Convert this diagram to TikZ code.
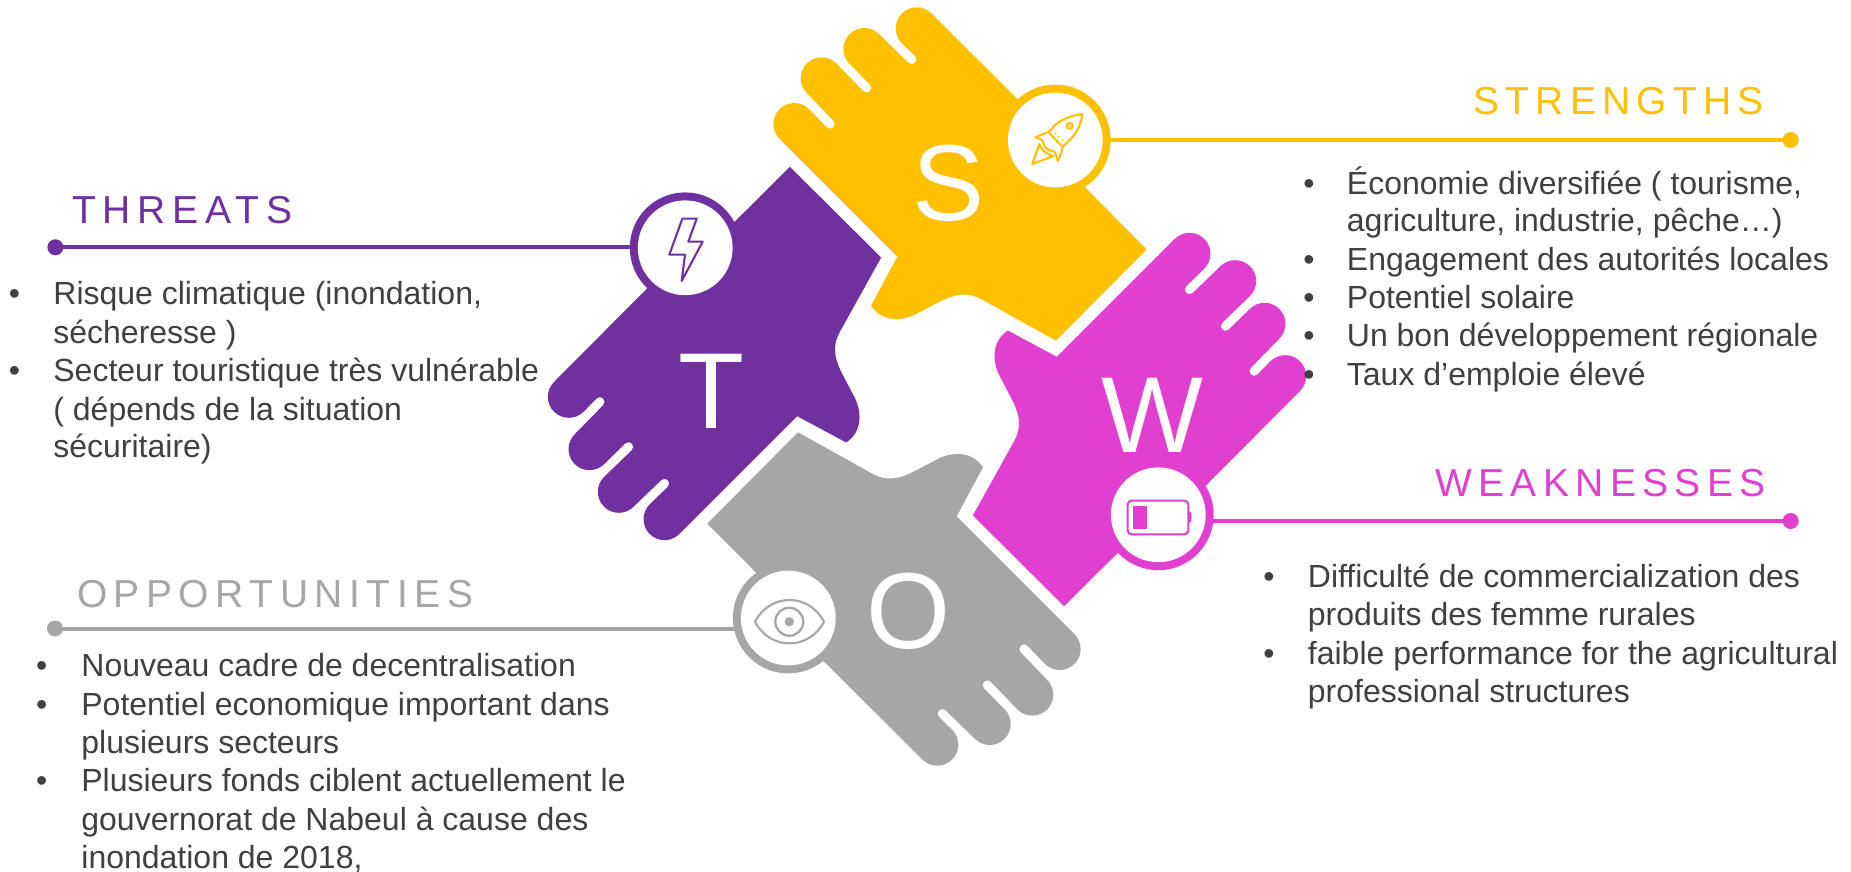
\documentclass[tikz,border=0pt]{standalone}
\usepackage{fontspec}
\setmainfont{Liberation Sans}
\definecolor{cS}{HTML}{FFC000}
\definecolor{cT}{HTML}{7030A0}
\definecolor{cW}{HTML}{E03FD0}
\definecolor{cO}{HTML}{A6A6A6}
\definecolor{cTxt}{HTML}{404040}
\newcommand{\ftip}[2]{-- ({#1-44.5},{#2+44.5}) .. controls ({#1-69.1},{#2+20}) and ({#1-69.1},{#2-20}) .. ({#1-44.5},{#2-44.5}) .. controls ({#1-20},{#2-69.1}) and ({#1+20},{#2-69.1}) .. ({#1+44.5},{#2-44.5})}
\newcommand{\fslit}[2]{-- ({#1-10},{#2+10}) .. controls ({#1+3.2},{#2+23.2}) and ({#1+23.2},{#2+3.2}) .. ({#1+10},{#2-10})}
\newcommand{\hand}[2]{%
\begin{scope}[rotate around={#1:(927,386.5)}]
\begin{scope}[shift={(380pt,0pt)},x=0.166667pt,y=-0.166667pt]
\fill[#2] (1160,748) -- (888,1022) -- (665,898)
 .. controls (625,876) and (590,880) .. (545,902)
 -- (480,936) .. controls (425,968) and (365,965) .. (333,917)
 -- (412,770) -- (58.5,416.5)
 .. controls (33.9,392) and (33.9,352) .. (58.5,327.5)
 .. controls (83,303) and (123,303) .. (147.5,327.5)
 \fslit{210}{372} \ftip{185}{235} \fslit{320}{264} \ftip{313}{147} \fslit{455}{178} \ftip{470}{85}
 -- (918.3,442.2) -- (886.8,473.7) -- cycle;
\end{scope}
\end{scope}}
\newcommand{\tl}[4]{\node[bodytxt] (#1) at (#2,#3) {#4};}
\newcommand{\bl}[3]{\node[bodytxt,anchor=base] (#1) at (#2,#3) {•};}
\tikzset{
 bodytxt/.style={inner sep=0pt,anchor=base west,text=cTxt,font=\fontsize{16pt}{18pt}\selectfont},
 titletxt/.style={inner sep=0pt,anchor=base west,font=\fontsize{19.5pt}{22pt}\selectfont},
 bigletter/.style={inner sep=0pt,anchor=base,text=white,font=\fontsize{54pt}{60pt}\selectfont},
 ring/.style={circle,inner sep=0pt,minimum size=55.4pt,fill=#1},
 hole/.style={circle,inner sep=0pt,minimum size=47.4pt,fill=white},
 enddot/.style={circle,inner sep=0pt,minimum size=8pt,fill=#1},
 conn/.style={draw=#1,line width=2pt},
 icon/.style={draw=#1,line width=1.05pt,line join=round,line cap=round}
}
\begin{document}
\begin{tikzpicture}[x=0.5pt,y=-0.5pt]
\useasboundingbox (0,0) rectangle (1851,872);
\fill[white] (0,0) rectangle (1851,872);
\hand{0}{cS}
\hand{90}{cT}
\hand{180}{cO}
\hand{270}{cW}
% rings, connectors, holes
\node[ring=cS] (ringS) at (1055.3,140) {};
\node[ring=cT] (ringT) at (685.2,247.8) {};
\node[ring=cW] (ringW) at (1158.3,514.8) {};
\node[ring=cO] (ringO) at (788.3,618) {};
\node[enddot=cS] (dotS) at (1790.7,140) {};
\node[enddot=cT] (dotT) at (55.4,247.3) {};
\node[enddot=cW] (dotW) at (1790.7,521) {};
\node[enddot=cO] (dotO) at (55,628.5) {};
\draw[conn=cS] (dotS.center) -- (dotS.center -| ringS.center);
\draw[conn=cT] (dotT.center) -- (dotT.center -| ringT.center);
\draw[conn=cW] (dotW.center) -- (dotW.center -| ringW.center);
\draw[conn=cO] (dotO.center) -- (dotO.center -| ringO.center);
\node[hole] (holeS) at (ringS.center) {};
\node[hole] (holeT) at (ringT.center) {};
\node[hole] (holeW) at (ringW.center) {};
\node[hole] (holeO) at (ringO.center) {};
% rocket
\begin{scope}[shift={(380pt,0pt)},x=0.166667pt,y=-0.166667pt]
\draw[icon=cS] (967,342) .. controls (935,346) and (905,358) .. (888,373) -- (865,396) -- (908,441) -- (932,417) .. controls (950,400) and (964,372) .. (967,342) -- cycle;
\draw[icon=cS] (929,378) circle (9);
\fill[cS] (929,378) circle (3);
\fill[cS] (887,400) circle (3);
\fill[cS] (897,410) circle (3);
\fill[cS] (908,421) circle (3);
\draw[icon=cS] (865,396) -- (826,412) .. controls (838,416) and (848,418) .. (850,428) .. controls (852,445) and (868,452) .. (882,455) .. controls (888,460) and (890,470) .. (893,483) .. controls (900,470) and (905,456) .. (908,441);
\draw[icon=cS] (838,432) -- (817,492) -- (880,468) .. controls (860,462) and (842,450) .. (838,432) -- cycle;
\end{scope}
% lightning
\begin{scope}[shift={(265pt,-75pt)},x=0.166667pt,y=-0.166667pt]
\draw[icon=cT] (457,206) -- (500,206) -- (475,275) -- (518,275) -- (455,393) -- (465,314) -- (418,314) -- cycle;
\end{scope}
% battery
\begin{scope}[shift={(475pt,-110pt)},x=0.166667pt,y=-0.166667pt]
\draw[icon=cW,rounded corners=2pt] (533,842) rectangle (715,943);
\fill[cW] (549,858) rectangle (592,927);
\fill[cW,rounded corners=0.6pt] (715,875) rectangle (724,908);
\end{scope}
% eye
\draw[icon=cO] (755,621.7) .. controls (770,592.8) and (809,592.8) .. (824,621.7) .. controls (809,650.6) and (770,650.6) .. (755,621.7) -- cycle;
\draw[cO,line width=1.15pt] (789.3,621.7) circle (14);
\fill[cO] (789.3,621.7) circle (4.7);
% big letters
\node[bigletter] (letS) at (948.3,220) {S};
\node[bigletter] (letT) at (711.7,428.3) {T};
\node[bigletter] (letW) at (1152.7,452.7) {W};
\node[bigletter] (letO) at (908.3,648.5) {O};
% titles
\node[titletxt,text=cS] (tS) at (1473,115) {\addfontfeature{LetterSpace=16}STRENGTHS};
\node[titletxt,text=cT] (tT) at (71.7,223.3) {\addfontfeature{LetterSpace=17.5}THREATS};
\node[titletxt,text=cW] (tW) at (1434.9,496.7) {\addfontfeature{LetterSpace=16.3}WEAKNESSES};
\node[titletxt,text=cO] (tO) at (76.7,607.7) {\addfontfeature{LetterSpace=16.7}OPPORTUNITIES};
% strengths
\bl{bs1}{1309}{194}\tl{s1}{1346.5}{194}{Économie diversifiée ( tourisme,}
\tl{s2}{1346.5}{231.7}{agriculture, industrie, pêche…)}
\bl{bs2}{1309}{270}\tl{s3}{1346.5}{270}{Engagement des autorités locales}
\bl{bs3}{1309}{308.3}\tl{s4}{1346.5}{308.3}{Potentiel solaire}
\bl{bs4}{1309}{346}\tl{s5}{1346.5}{346}{Un bon développement régionale}
\bl{bs5}{1309}{385}\tl{s6}{1346.5}{385}{Taux d’emploie élevé}
% threats
\bl{bt1}{14.6}{304}\tl{t1}{53}{304}{Risque climatique (inondation,}
\tl{t2}{53}{343.3}{sécheresse )}
\bl{bt2}{14.6}{381.3}\tl{t3}{53}{381.3}{Secteur touristique très vulnérable}
\tl{t4}{53}{420}{( dépends de la situation}
\tl{t5}{53}{457.7}{sécuritaire)}
% opportunities
\bl{bo1}{41.8}{676.7}\tl{o1}{81}{676.7}{Nouveau cadre de decentralisation}
\bl{bo2}{41.8}{715}\tl{o2}{81}{715}{Potentiel economique important dans}
\tl{o3}{81}{753.3}{plusieurs secteurs}
\bl{bo3}{41.8}{791.7}\tl{o4}{81}{791.7}{Plusieurs fonds ciblent actuellement le}
\tl{o5}{81}{830}{gouvernorat de Nabeul à cause des}
\tl{o6}{81}{868.3}{inondation de 2018,}
% weaknesses
\bl{bw1}{1269}{587.7}\tl{w1}{1307.5}{587.7}{Difficulté de commercialization des}
\tl{w2}{1307.5}{625.7}{produits des femme rurales}
\bl{bw2}{1269}{664}\tl{w3}{1307.5}{664}{faible performance for the agricultural}
\tl{w4}{1307.5}{702.3}{professional structures}
\end{tikzpicture}
\end{document}
